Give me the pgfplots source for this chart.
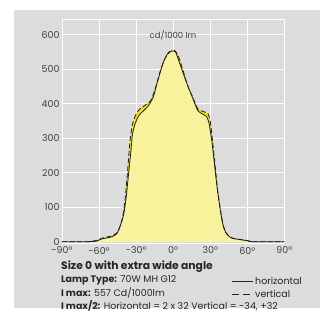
\documentclass[border=0pt]{standalone}
\usepackage{pgfplots}
\pgfplotsset{compat=1.18}
\usepackage{fontspec}
\setmainfont{Poppins}
\definecolor{bggray}{HTML}{DCDCDE}
\definecolor{lightyel}{HTML}{F8F29C}
\definecolor{brightyel}{HTML}{F3E500}
\definecolor{txt}{HTML}{404040}
\definecolor{crv}{HTML}{1E1E1E}
\pgfplotstableread{
a v
-90 0
-70 0
-62 2
-58 8
-50 14
-46 22
-44 35
-42 55
-40 80
-38 130
-36 200
-34 270
-33 310
-31 340
-28 365
-24 380
-20 395
-16 420
-13 460
-8 520
-4 548
-1 553
2 550
5 520
8 490
11 460
16 415
20 380
24 370
27 363
29 345
31 300
33 240
35 175
37 120
39 75
41 40
44 20
48 10
55 6
60 3
65 0
90 0
}\horiz
\pgfplotstableread{
a v
-90 0
-70 0
-62 4
-58 10
-52 15
-48 20
-45 28
-43 45
-41 70
-39 120
-37 200
-35 290
-33 340
-30 370
-27 385
-23 395
-18 410
-14 450
-10 500
-6 535
-2 552
1 555
4 540
6 520
9 485
12 450
16 418
20 385
24 378
28 372
30 350
32 290
34 220
36 150
38 100
40 55
43 25
47 12
55 6
60 4
65 0
90 0
}\vert
\begin{document}
\begin{tikzpicture}[x=1bp,y=1bp]
\fill[white] (0,0) rectangle (320,315);
\fill[bggray] (14,7) rectangle (320,305);
\begin{axis}[
  at={(62bp,71.5bp)}, anchor=south west,
  scale only axis, width=222.3bp, height=224.2bp,
  xmin=-90, xmax=90, ymin=-5, ymax=645,
  axis background/.style={fill=bggray},
  axis line style={white, line width=1bp},
  grid=major, grid style={white, line width=1bp},
  tick style={draw=none},
  xtick={-90,-60,-30,0,30,60,90},
  xticklabels={-90°,-60°,-30°,0°,30°,60°,90°},
  ytick={0,100,200,300,400,500,600},
  yticklabels={0,100,200,300,400,500,600},
  tick label style={font=\fontsize{9.5}{11}\selectfont, text=txt},
  xticklabel style={yshift=0bp},
  yticklabel style={xshift=1bp},
]
\addplot[fill=brightyel, draw=none] table[x=a,y=v] {\vert} \closedcycle;
\addplot[fill=lightyel, draw=none] table[x=a,y=v] {\horiz} \closedcycle;
\addplot[crv, line width=0.8bp, dash pattern=on 5bp off 2.5bp, smooth, tension=0.4] table[x=a,y=v] {\vert};
\addplot[crv, line width=0.8bp, smooth, tension=0.4] table[x=a,y=v] {\horiz};
\end{axis}
\node[text=txt, font=\fontsize{8.5}{10}\selectfont] at (173,280) {cd/1000 lm};
\begin{scope}[every node/.style={anchor=west, inner sep=0, text=black!85, font=\fontsize{9.5}{11}\selectfont}]
\node at (61,48.3) {\bfseries\fontsize{10.8}{12}\selectfont Size 0 with extra wide angle};
\node at (61,35) {\textbf{Lamp Type:} 70W MH G12};
\node at (61,21.7) {\textbf{I max:} 557 Cd/1000lm};
\node at (61,9.5) {\textbf{I max/2:} Horizontal = 2 x 32 Vertical = -34, +32};
\node at (255,34) {horizontal};
\node at (255,21) {vertical};
\end{scope}
\draw[black!85, line width=0.7bp] (232,34) -- (253,34);
\draw[black!85, line width=0.7bp, dash pattern=on 7bp off 4bp] (232,21) -- (253,21);
\end{tikzpicture}
\end{document}
